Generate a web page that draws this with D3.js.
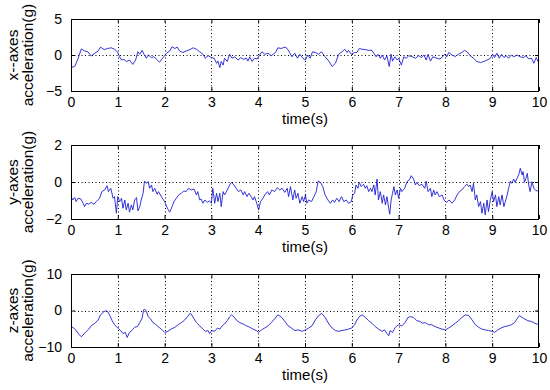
<!DOCTYPE html>
<html><head><meta charset="utf-8">
<script src="https://cdn.jsdelivr.net/npm/d3@7"></script>
<style>
html,body{margin:0;padding:0;background:#fff;}
svg{display:block;font-family:"Liberation Sans",Arial,sans-serif;}
</style></head>
<body><svg id="c" width="550" height="390"></svg>
<script>
// ---- data ----
const xTicks = [0,1,2,3,4,5,6,7,8,9,10];
const xLabel = "time(s)";

const xAxisTitle = ["x--axes","acceleration(g)"];
const xAxisTicks = [-5,0,5];
const xAccT = [0.00,0.08,0.15,0.22,0.29,0.36,0.43,0.51,0.58,0.63,0.71,0.78,0.86,0.93,0.99,1.04,1.08,1.13,1.18,1.25,1.32,1.38,1.43,1.47,1.52,1.56,1.61,1.65,1.72,1.77,1.82,1.89,1.97,2.04,2.11,2.16,2.22,2.27,2.32,2.39,2.46,2.54,2.61,2.68,2.75,2.82,2.87,2.93,3.00,3.06,3.11,3.14,3.18,3.21,3.25,3.28,3.34,3.39,3.44,3.50,3.57,3.63,3.68,3.75,3.78,3.82,3.87,3.92,3.98,4.03,4.08,4.14,4.21,4.28,4.37,4.42,4.49,4.57,4.62,4.67,4.72,4.78,4.84,4.89,
 4.94,5.01,5.06,5.11,5.16,5.22,5.29,5.35,5.43,5.51,5.58,5.65,5.72,5.79,5.85,5.90,5.93,5.99,6.06,6.11,6.16,6.22,6.29,6.36,6.43,6.47,6.52,6.56,6.61,6.65,6.70,6.75,6.80,6.84,6.87,6.92,6.97,7.00,7.06,7.11,7.16,7.22,7.29,7.36,7.43,7.49,7.54,7.59,7.63,7.68,7.73,7.78,7.86,7.91,7.98,8.03,8.07,8.14,8.21,8.28,8.35,8.41,8.46,8.53,8.60,8.67,8.75,8.82,8.89,8.96,9.01,9.05,9.10,9.15,9.20,9.25,9.30,9.35,9.41,9.46,9.53,9.60,9.67,9.72,9.78,9.84,9.89,9.94,9.98,10.00];
const xAccV = [-1.75,-1.6,-0.5,0.85,0.55,0.45,-0.15,0.25,0.55,1.1,0.75,0.9,1.0,0.8,0.45,-0.25,-0.7,-0.6,-0.9,-0.7,-1.3,-0.7,0.45,0.1,0.65,0.1,-0.45,0,-0.35,-0.25,-0.55,-1.0,-0.35,0.25,0.55,1.15,0.9,1.1,0.55,0.35,0.55,0.75,1.0,0.8,0.45,0.1,-0.45,-0.1,-0.35,-0.45,-1.15,-0.85,-1.75,-0.9,-1.4,-0.45,-0.9,0.1,-0.45,-0.25,-0.7,-0.35,-0.6,-0.45,-0.85,-0.25,-0.9,-0.45,-0.55,0,0.45,0.1,0.25,-0.1,0.35,1.0,0.9,1.1,0.9,0.35,-0.25,0.25,-0.45,0.1,
 -0.35,-0.7,0,-0.45,0.45,0.35,0.1,0.45,-0.25,-0.85,-1.6,-1.15,0.1,0.45,0.8,0.35,0.65,0.1,0.35,0.35,0.9,0.8,0.75,0.65,0.65,0.25,-0.25,0.1,-0.45,0,-0.7,-0.1,-1.6,0.1,-0.85,-0.25,-0.7,-0.45,-1.4,-0.25,-0.45,-0.1,-0.25,-0.45,-0.1,-0.35,0,-0.7,0.1,-0.85,-0.25,-0.35,-0.55,-0.45,0.1,-0.25,0.35,0,-0.2,0.1,0.35,0.65,0.45,-0.1,-0.45,-0.9,-1.05,-0.9,-0.7,-0.45,0.1,-0.35,0.25,-0.45,0.1,-0.35,-0.1,-0.45,0,-0.25,0,-0.25,-0.35,-0.1,-0.55,-0.45,-1.15,-0.35,-0.9,-0.7];

const yAxisTitle = ["y-axes","acceleration(g)"];
const yAxisTicks = [-2,0,2];
const yAccT = [0.00,0.04,0.08,0.11,0.15,0.21,0.26,0.29,0.33,0.38,0.43,0.49,0.54,0.61,0.66,0.72,0.77,0.80,0.85,0.90,0.93,0.97,1.00,1.04,1.08,1.11,1.15,1.18,1.22,1.25,1.29,1.32,1.36,1.40,1.43,1.47,1.50,1.54,1.57,1.61,1.65,1.68,1.72,1.75,1.79,1.84,1.87,1.93,2.00,2.06,2.11,2.16,2.20,2.25,2.30,2.36,2.41,2.46,2.51,2.57,2.63,2.68,2.71,2.75,2.78,2.82,2.86,2.91,2.96,3.00,3.03,3.07,3.11,3.14,3.18,3.21,3.25,3.28,3.34,3.39,3.43,3.48,3.53,3.58,3.63,3.68,3.71,3.76,3.80,3.85,3.89,3.92,3.97,4.01,4.05,4.10,4.14,4.20,4.24,4.29,4.35,4.41,4.46,4.51,4.57,4.62,4.65,4.69,4.74,4.78,4.81,4.85,4.89,
 4.94,4.97,5.01,5.04,5.08,5.14,5.19,5.24,5.28,5.33,5.38,5.43,5.49,5.54,5.59,5.63,5.68,5.73,5.78,5.83,5.88,5.93,5.99,6.02,6.06,6.09,6.13,6.16,6.20,6.25,6.29,6.32,6.36,6.40,6.43,6.47,6.50,6.54,6.57,6.61,6.65,6.68,6.72,6.75,6.79,6.81,6.84,6.87,6.90,6.93,6.97,7.00,7.04,7.07,7.13,7.18,7.23,7.27,7.32,7.36,7.39,7.44,7.50,7.56,7.59,7.63,7.68,7.71,7.75,7.78,7.82,7.87,7.93,7.98,8.03,8.08,8.14,8.20,8.25,8.30,8.35,8.41,8.46,8.50,8.53,8.57,8.60,8.64,8.67,8.71,8.75,8.78,8.82,8.85,8.89,8.92,8.96,9.00,9.03,9.07,9.10,9.14,9.17,9.21,9.25,9.28,9.32,9.35,9.39,9.42,9.46,9.49,9.53,9.57,9.60,9.64,9.66,9.69,9.72,9.75,9.78,9.81,9.85,9.89,9.92,9.96,10.00];
const yAccV = [-0.79,-0.97,-0.84,-1.06,-0.88,-0.92,-1.15,-1.33,-1.15,-1.2,-1.1,-1.2,-1.06,-0.88,-0.52,-0.43,-0.2,-0.52,-0.34,-0.88,-0.79,-1.69,-0.79,-1.06,-0.88,-1.42,-0.97,-1.51,-1.15,-1.63,-1.24,-1.51,-0.97,-0.84,-1.56,-1.33,-0.97,-0.61,0.05,-0.07,0.02,-0.34,-0.16,-0.52,-0.34,-0.66,-0.52,-0.79,-1.06,-1.42,-1.63,-1.33,-1.06,-0.88,-0.7,-0.61,-0.48,-0.52,-0.34,-0.43,-0.38,-0.7,-0.52,-0.97,-0.92,-1.15,-0.97,-1.1,-1.02,-1.15,-0.34,-1.15,-0.61,-1.06,-0.61,-1.33,-0.52,-0.7,-0.43,-0.16,-0.02,-0.16,-0.34,-0.52,-0.43,-0.7,-0.52,-0.79,-0.61,-0.79,-0.97,-0.79,-1.15,-1.51,-1.06,-0.88,-0.7,-0.52,-0.7,-0.43,-0.52,-0.3,-0.43,-0.34,-0.56,-0.34,-0.79,-0.25,-0.97,-0.43,-0.88,-0.61,-1.15,
 -0.79,-1.06,-0.7,-1.15,-0.97,-1.06,-0.79,-0.52,0.05,-0.02,-0.25,-0.7,-0.97,-1.15,-0.97,-1.1,-0.88,-1.06,-0.79,-1.06,-0.97,-1.15,-1.06,-0.7,-0.61,-0.16,-0.34,-0.02,-0.25,-0.12,-0.34,-0.2,-0.52,-0.34,-0.52,-0.16,-0.7,0.16,-0.97,-0.52,-1.15,-0.7,-1.24,-0.79,-1.42,-1.74,-0.97,-0.61,-0.25,-0.7,-0.43,-0.88,-0.34,-0.52,-0.34,0.02,0.11,0.34,0.16,-0.16,-0.02,-0.2,-0.12,-0.34,0.05,-0.52,-0.34,-0.79,-0.43,-0.7,-0.52,-0.79,-0.7,-1.02,-1.1,-0.97,-1.15,-0.97,-0.7,-0.52,-0.43,-0.25,-0.12,-0.25,-0.16,-0.52,-0.07,-0.97,-0.7,-1.33,-1.06,-1.69,-1.15,-1.78,-0.97,-1.6,-0.97,-0.52,-1.06,-0.7,-1.33,-0.79,-1.24,-0.7,-1.33,-1.06,-0.7,-0.34,0.05,-0.07,0.16,-0.02,0.2,0.41,0.74,0.38,0.56,-0.02,0.2,0.47,-0.16,-0.52,0.02,-0.34,-0.43,-0.48,-0.52];

const zAxisTitle = ["z-axes","acceleration(g)"];
const zAxisTicks = [-10,0,10];
const zAccT = [0.00,0.06,0.11,0.16,0.22,0.28,0.33,0.38,0.43,0.51,0.58,0.63,0.69,0.73,0.78,0.83,0.88,0.93,1.00,1.06,1.11,1.16,1.20,1.25,1.30,1.36,1.42,1.47,1.52,1.55,1.57,1.61,1.65,1.70,1.75,1.80,1.86,1.93,2.00,2.07,2.14,2.22,2.29,2.36,2.43,2.49,2.54,2.57,2.63,2.68,2.75,2.82,2.87,2.93,2.96,3.01,3.07,3.13,3.18,3.23,3.28,3.34,3.39,3.43,3.48,3.53,3.60,3.68,3.75,3.82,3.89,3.96,4.01,4.07,4.14,4.21,4.28,4.35,4.42,4.49,4.57,4.64,4.71,4.78,4.85,
 4.94,5.01,5.08,5.15,5.22,5.29,5.36,5.43,5.51,5.58,5.65,5.72,5.79,5.86,5.93,6.00,6.06,6.11,6.16,6.22,6.29,6.36,6.43,6.50,6.57,6.65,6.70,6.75,6.79,6.82,6.87,6.93,7.00,7.07,7.14,7.20,7.25,7.32,7.39,7.46,7.51,7.57,7.64,7.71,7.78,7.86,7.93,8.00,8.07,8.14,8.21,8.28,8.35,8.43,8.50,8.57,8.64,8.71,8.78,8.85,8.92,9.00,9.05,9.12,9.19,9.27,9.34,9.41,9.48,9.53,9.58,9.64,9.69,9.76,9.84,9.91,10.00];
const zAccV = [-4.4,-4.8,-5.5,-6.4,-7.2,-6.4,-5.7,-5.1,-4.2,-3.5,-2.6,-1.2,-0.5,-0.1,-0.2,-1.4,-2.8,-3.9,-4.8,-5.5,-6.3,-6.0,-7.4,-6.0,-5.5,-4.6,-4.4,-3.3,-2.1,0.1,0.4,-0.2,-1.7,-2.3,-3.3,-3.7,-4.4,-5.1,-6.0,-5.7,-5.1,-4.6,-3.9,-3.3,-2.6,-1.7,-0.8,-1.0,-2.3,-3.3,-4.2,-5.1,-5.7,-5.5,-6.3,-5.5,-5.7,-4.8,-5.1,-4.2,-3.7,-2.8,-1.7,-1.2,-1.7,-2.6,-3.3,-3.7,-4.2,-4.6,-5.1,-5.5,-6.0,-5.3,-4.8,-4.2,-3.3,-2.3,-1.2,-1.7,-3.0,-4.2,-4.8,-5.5,-5.3,
 -5.7,-5.3,-4.8,-4.2,-2.6,-1.4,-0.8,-1.9,-3.7,-4.8,-5.5,-5.7,-5.5,-5.3,-5.1,-4.8,-3.9,-2.6,-1.7,-1.2,-1.9,-2.8,-3.5,-4.4,-5.1,-5.7,-5.3,-6.3,-6.9,-5.5,-6.0,-4.6,-3.9,-4.2,-3.3,-1.9,-1.7,-1.9,-2.8,-3.0,-3.5,-3.3,-3.9,-3.9,-4.4,-4.8,-5.1,-5.3,-4.8,-4.2,-3.5,-2.8,-1.9,-1.2,-1.4,-2.6,-3.9,-4.6,-5.1,-5.3,-5.5,-5.7,-6.0,-5.3,-4.8,-4.4,-4.2,-3.9,-3.3,-2.3,-1.4,-1.9,-2.3,-2.8,-3.0,-3.5,-3.9];

// ---- drawing ----
const svg = d3.select("#c");
const left = 71, right = 539;
const panels = [
  {top:19, bottom:91, title:xAxisTitle, ticks:xAxisTicks, t:xAccT, v:xAccV},
  {top:145, bottom:219, title:yAxisTitle, ticks:yAxisTicks, t:yAccT, v:yAccV},
  {top:274, bottom:347, title:zAxisTitle, ticks:zAxisTicks, t:zAccT, v:zAccV}
];
const font = '"Liberation Sans", Arial, sans-serif';

panels.forEach(p => {
  const x = d3.scaleLinear().domain([xTicks[0], xTicks[xTicks.length-1]]).range([left, right]);
  const y = d3.scaleLinear().domain([p.ticks[0], p.ticks[p.ticks.length-1]]).range([p.bottom, p.top]);
  const g = svg.append("g");

  // grid (dotted)
  g.append("g").selectAll("line").data(xTicks.slice(1,-1)).join("line")
    .attr("x1", d=>Math.round(x(d))+0.5).attr("x2", d=>Math.round(x(d))+0.5)
    .attr("y1", p.top).attr("y2", p.bottom)
    .attr("stroke","#000").attr("stroke-width",1).attr("stroke-dasharray","1,2.5");
  g.append("g").selectAll("line").data(p.ticks.slice(1,-1)).join("line")
    .attr("x1", left).attr("x2", right)
    .attr("y1", d=>Math.round(y(d))+0.5).attr("y2", d=>Math.round(y(d))+0.5)
    .attr("stroke","#000").attr("stroke-width",1).attr("stroke-dasharray","1,2.5");

  // data line
  const pts = p.t.map((t,i)=>[t,p.v[i]]);
  g.append("path").datum(pts)
    .attr("fill","none").attr("stroke","#1f1fd0").attr("stroke-width",0.9)
    .attr("stroke-linejoin","round")
    .attr("d", d3.line().x(d=>x(d[0])).y(d=>y(d[1])));

  // axes with inner ticks
  const axB = d3.axisBottom(x).tickValues(xTicks).tickSizeInner(-4).tickSizeOuter(0).tickPadding(6).tickFormat(d3.format("d"));
  const axT = d3.axisTop(x).tickValues(xTicks).tickSizeInner(-4).tickSizeOuter(0).tickFormat("");
  const axL = d3.axisLeft(y).tickValues(p.ticks).tickSizeInner(-4).tickSizeOuter(0).tickPadding(9).tickFormat(d3.format("d"));
  const axR = d3.axisRight(y).tickValues(p.ticks).tickSizeInner(-4).tickSizeOuter(0).tickFormat("");
  const style = sel => {
    sel.selectAll("path.domain").remove();
    sel.selectAll("line").attr("stroke","#000");
    sel.selectAll("text").attr("font-family",font).attr("font-size",14).attr("fill","#000");
  };
  g.append("g").attr("transform",`translate(0,${p.bottom})`).call(axB).call(style);
  g.append("g").attr("transform",`translate(0,${p.top})`).call(axT).call(style);
  g.append("g").attr("transform",`translate(${left},0)`).call(axL).call(style);
  g.append("g").attr("transform",`translate(${right},0)`).call(axR).call(style);

  // frame
  g.append("rect").attr("x",left+0.5).attr("y",p.top+0.5)
    .attr("width",right-left-1).attr("height",p.bottom-p.top)
    .attr("fill","none").attr("stroke","#000").attr("stroke-width",1);

  // x label
  g.append("text").attr("x",(left+right)/2).attr("y",p.bottom+33)
    .attr("text-anchor","middle").attr("font-family",font).attr("font-size",15).attr("fill","#000")
    .text(xLabel);

  // y label (two lines, rotated)
  const cy = (p.top+p.bottom)/2;
  p.title.forEach((line,i)=>{
    g.append("text").attr("transform",`translate(${18+i*14.5},${cy}) rotate(-90)`)
      .attr("text-anchor","middle").attr("font-family",font).attr("font-size",15.5).attr("fill","#000")
      .text(line);
  });
});
</script></body></html>
